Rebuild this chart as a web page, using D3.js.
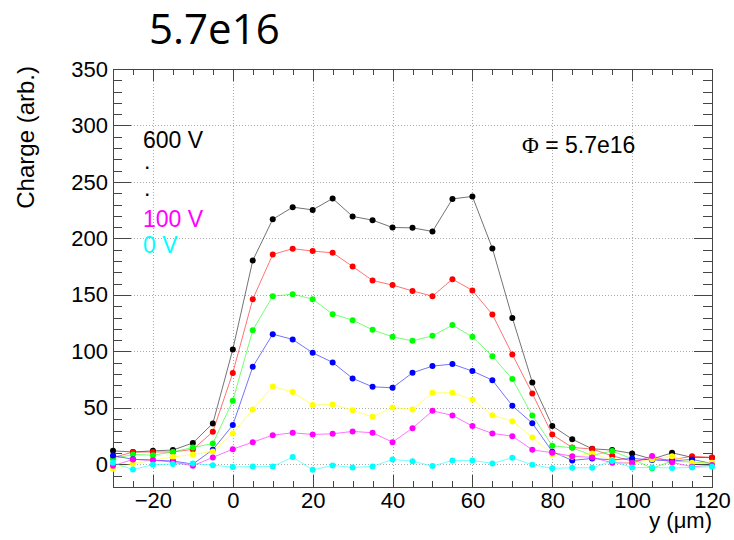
<!DOCTYPE html>
<head>
  <meta charset="utf-8">
  <title>Charge vs y: 5.7e16</title>
  <script src="https://cdn.jsdelivr.net/npm/d3@7/dist/d3.min.js"></script>
  <style>
    body { margin: 0; background: white; }
    svg { display: block; }
    text { font-family: "Liberation Sans", Arial, sans-serif; fill: black; }
    .axis path, .axis line { stroke: #444; shape-rendering: crispEdges; }
    .axis text { font-size: 22px; font-family: "Liberation Sans", Arial, sans-serif; }
    .grid line { stroke: #aaa; stroke-dasharray: 1,2; shape-rendering: crispEdges; }
  </style>
</head>
<body>
<script>
// positions along y (um)
const positions = [-30, -25, -20, -15, -10, -5, 0, 5, 10, 15, 20, 25, 30, 35, 40, 45, 50,
                   55, 60, 65, 70, 75, 80, 85, 90, 95, 100, 105, 110, 115, 120];

// charge per bias voltage
const v600 = [12, 11, 12, 12.7, 19, 36.3, 101.8, 180.5, 217, 227.7, 225.3, 235.4, 219.5, 216.2, 209.7, 209.4,
              206.2, 235, 237.2, 191.2, 129.7, 72.6, 34, 22.3, 13.8, 12.7, 9.7, 4.7, 10.3, 6.2, 6];
const v500 = [6, 10.9, 11, 11, 13.3, 28.9, 81, 146.3, 185.8, 191, 188.8, 187.3, 175.2, 162.8, 158.7, 153.6,
              148.9, 164, 154, 132.7, 97.3, 62.8, 26.4, 15, 13.6, 7.6, 3, 5, 4, 7.3, 6.2];
const v400 = [5, 8.8, 8.2, 11, 15, 18.5, 56.3, 118.8, 148.9, 150.7, 146.3, 133, 127.7, 119.1, 112.9, 109.4,
              113.8, 123.3, 112.9, 95.8, 75.5, 43.4, 16.5, 14.7, 8, 11.8, 5, -3.5, 3, 2, 0.9];
const v300 = [7.8, 4.5, 3.8, 3, 0.3, 13, 34.8, 86.4, 115.3, 110.6, 98.8, 90.3, 76.1, 68.7, 67.8, 81.1,
              87, 88.8, 82.6, 74.6, 51.9, 36.5, 11.3, 3.5, 5.3, 4, 5.3, 4, 3, 4.4, 0.8];
const v200 = [-3.8, 0.6, 3.8, 6.5, 8.8, 11.5, 27.4, 48.7, 69, 64, 52.5, 53.1, 48, 42.1, 50.4, 48.7,
              63.4, 63.4, 57.2, 43.6, 38.3, 23.9, 9, 6.7, 9.7, 4, 1, 4.6, 7.3, 1.4, 1.5];
const v100 = [-1.2, 4.4, 3.8, 2, -1.2, 6.2, 13.5, 19.7, 25.9, 28, 26.5, 27.1, 29.2, 28, 19.7, 32.1,
              47.4, 43.4, 33.9, 27.4, 25, 12.9, 10.3, 7.3, 6.2, 1.4, 1.2, 7.5, 1.8, -2.1, -0.6];
const v0 = [1.4, -4.6, -0.2, 0.3, 0.9, -0.8, -2.4, -1.8, -1.8, 6.5, -4.8, -0.9, -2.7, -1.8, 4.4, 2.9,
            -1.5, 3.5, 3.5, 0.9, 5.8, -0.3, -3.5, -3, -3, 3, -2.8, -2.7, -3.1, -2.7, -2.1];

const seriesNames = ["600 V", "500 V", "400 V", "300 V", "200 V", "100 V", "0 V"];
const seriesColors = ["#000000", "#ff0000", "#00ff00", "#0000ff", "#ffff00", "#ff00ff", "#00ffff"];
const seriesValues = [v600, v500, v400, v300, v200, v100, v0];

const xMajor = [-20, 0, 20, 40, 60, 80, 100, 120];
const yMajor = [0, 50, 100, 150, 200, 250, 300, 350];

const W = 734, H = 540;
const svg = d3.select("body").append("svg").attr("width", W).attr("height", H);
svg.append("rect").attr("width", W).attr("height", H).attr("fill", "white");

const x = d3.scaleLinear().domain([-30, 120]).range([113, 712]);
const y = d3.scaleLinear().domain([-20, 350]).range([487, 69]);

const xMinor = d3.range(-30, 121, 5).filter(d => !xMajor.includes(d));
const yMinor = d3.range(-20, 351, 10).filter(d => !yMajor.includes(d));

// grid
const grid = svg.append("g").attr("class", "grid");
grid.selectAll(".gx").data(xMajor.filter(d => d < 120)).enter().append("line")
  .attr("x1", d => Math.round(x(d)) + 0.5).attr("x2", d => Math.round(x(d)) + 0.5)
  .attr("y1", y(-20)).attr("y2", y(350));
grid.selectAll(".gy").data(yMajor.filter(d => d < 350)).enter().append("line")
  .attr("y1", d => Math.round(y(d)) + 0.5).attr("y2", d => Math.round(y(d)) + 0.5)
  .attr("x1", x(-30)).attr("x2", x(120));

// axes: ticks inside the frame
function axisPair(g, major, minor, maker, bigLen, smallLen, labels) {
  g.append("g").attr("class", "axis")
    .call(maker(major).tickSize(-bigLen).tickSizeOuter(0).tickPadding(labels ? 5 : 0)
      .tickFormat(labels ? d3.format("d") : ""));
  g.append("g").attr("class", "axis")
    .call(maker(minor).tickSize(-smallLen).tickSizeOuter(0).tickFormat(""));
}
const axB = svg.append("g").attr("transform", `translate(0,${y(-20)})`);
axisPair(axB, xMajor, xMinor, v => d3.axisBottom(x).tickValues(v), 12, 6, true);
axB.selectAll("text").attr("dy", "0").attr("y", 21);
const axT = svg.append("g").attr("transform", `translate(0,${y(350)})`);
axisPair(axT, xMajor, xMinor, v => d3.axisTop(x).tickValues(v), 12, 6, false);
const axL = svg.append("g").attr("transform", `translate(${x(-30)},0)`);
axisPair(axL, yMajor, yMinor, v => d3.axisLeft(y).tickValues(v), 18, 9, true);
const axR = svg.append("g").attr("transform", `translate(${x(120)},0)`);
axisPair(axR, yMajor, yMinor, v => d3.axisRight(y).tickValues(v), 18, 9, false);

// series
const line = d3.line().x((d, i) => x(positions[i])).y(d => y(d));
seriesValues.forEach((vals, k) => {
  const g = svg.append("g");
  g.append("path").datum(vals).attr("d", line)
    .attr("fill", "none").attr("stroke", seriesColors[k])
    .attr("stroke-opacity", 0.55).attr("stroke-width", 1);
  g.selectAll("circle").data(vals).enter().append("circle")
    .attr("cx", (d, i) => x(positions[i])).attr("cy", d => y(d))
    .attr("r", 3).attr("fill", seriesColors[k]);
});

// titles
svg.append("text").attr("x", 149).attr("y", 44)
  .style("font-family", "'Open Sans', 'Noto Sans', sans-serif").style("font-size", "42px")
  .text("5.7e16");
svg.append("text").attr("transform", "translate(34,66) rotate(-90)")
  .attr("text-anchor", "end").style("font-size", "24px").text("Charge (arb.)");
svg.append("text").attr("x", 712).attr("y", 528).attr("text-anchor", "end")
  .style("font-size", "22px").text("y (\u03bcm)");

// labels inside plot
const legend = [
  { t: seriesNames[0], c: seriesColors[0], yy: 148, fs: 23, xx: 143, fw: "normal" },
  { t: ".", c: "#000", yy: 169, fs: 16, xx: 145, fw: "bold" },
  { t: ".", c: "#000", yy: 196, fs: 16, xx: 145, fw: "bold" },
  { t: seriesNames[5], c: seriesColors[5], yy: 227, fs: 23, xx: 143, fw: "normal" },
  { t: seriesNames[6], c: seriesColors[6], yy: 253, fs: 23, xx: 143, fw: "normal" }
];
svg.selectAll(".leg").data(legend).enter().append("text")
  .attr("x", d => d.xx).attr("y", d => d.yy).style("font-size", d => d.fs + "px")
  .style("font-weight", d => d.fw).style("fill", d => d.c).text(d => d.t);

svg.append("text").attr("x", 522).attr("y", 153).style("font-size", "23px")
  .html('<tspan style="font-family:\'Liberation Serif\',serif">\u03a6</tspan> = 5.7e16');
</script>
</body>
